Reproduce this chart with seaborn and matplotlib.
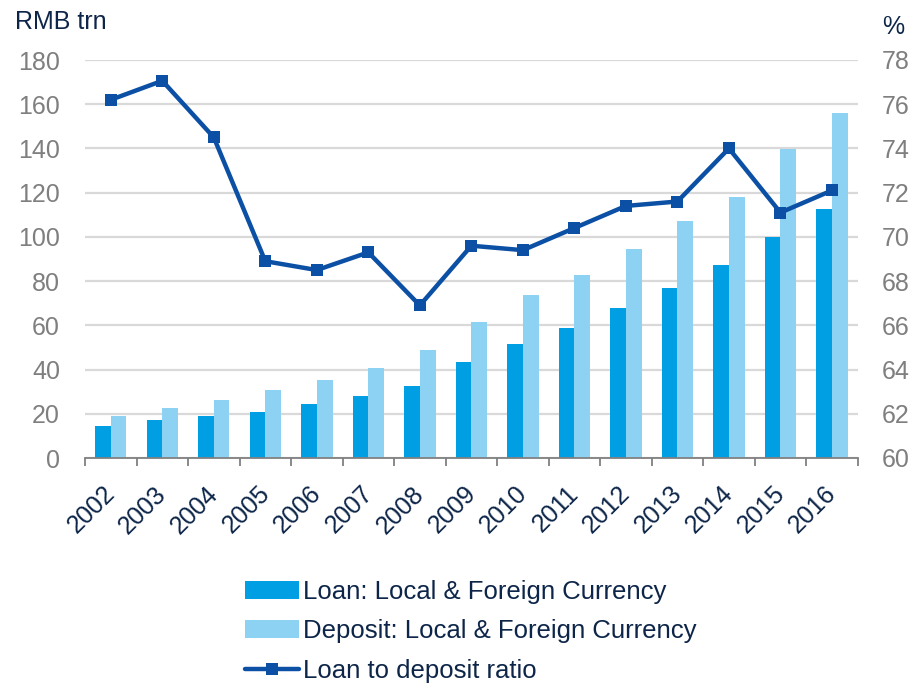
import numpy as np
import pandas as pd
import matplotlib
matplotlib.use("Agg")
import matplotlib.pyplot as plt
import matplotlib.transforms as mtransforms
from matplotlib.patches import Patch
from matplotlib.lines import Line2D
import seaborn as sns

years = ["2002", "2003", "2004", "2005", "2006", "2007", "2008", "2009",
         "2010", "2011", "2012", "2013", "2014", "2015", "2016"]
loan = [14.5, 17.2, 19.0, 20.8, 24.4, 28.0, 32.6, 43.4,
        51.6, 58.8, 67.8, 76.9, 87.4, 100.1, 112.8]
deposit = [19.0, 22.6, 26.2, 30.8, 35.3, 40.7, 48.8, 61.5,
           73.9, 82.9, 94.7, 107.3, 118.2, 139.9, 156.2]
ratio = [76.2, 77.06, 74.5, 68.9, 68.5, 69.3, 66.9, 69.6,
         69.4, 70.4, 71.4, 71.6, 74.0, 71.1, 72.1]

loan_lbl = "Loan: Local & Foreign Currency"
dep_lbl = "Deposit: Local & Foreign Currency"
ratio_lbl = "Loan to deposit ratio"

c_loan = "#009FE3"
c_dep = "#8DD2F2"
c_line = "#0B50A4"
c_tick = "#7F7F7F"
c_text = "#0D2548"
c_grid = "#D9D9D9"
fs = 18

sns.set_theme(style="white")
plt.rcParams["font.family"] = ["Liberation Sans", "DejaVu Sans"]

df = pd.DataFrame({"year": years * 2,
                   "value": loan + deposit,
                   "series": [loan_lbl] * len(years) + [dep_lbl] * len(years)})

fig = plt.figure(figsize=(9.13, 6.88), dpi=100)
ax = fig.add_axes([85 / 913, 1 - 458 / 688, (857.7 - 85) / 913, (458 - 60) / 688])

sns.barplot(data=df, x="year", y="value", hue="series", order=years,
            hue_order=[loan_lbl, dep_lbl], palette=[c_loan, c_dep],
            width=0.61, saturation=1, linewidth=0, edgecolor="none",
            ax=ax, legend=False)
ax.set_xlim(-0.5, len(years) - 0.5)
ax.set_ylim(0, 180)
ax.set_yticks(np.arange(0, 181, 20))
ax.yaxis.grid(True, color=c_grid, linewidth=1.6)
ax.set_axisbelow(True)
ax.set_xlabel("")
ax.set_ylabel("")
for s in ["top", "left", "right"]:
    ax.spines[s].set_visible(False)
ax.spines["bottom"].set_color("#808080")
ax.spines["bottom"].set_linewidth(1.3)
ax.tick_params(axis="y", length=0, labelsize=fs, labelcolor=c_tick, pad=18)
ax.set_xticks(range(len(years)))
ax.set_xticklabels(years, rotation=45, ha="right", rotation_mode="anchor")
ax.set_xticks(np.arange(-0.5, len(years), 1.0), minor=True)
ax.tick_params(axis="x", which="minor", length=6, width=1.3, color="#808080",
               direction="out", bottom=True)
ax.tick_params(axis="x", which="major", length=0, labelsize=fs, labelcolor=c_text, pad=17)
offset = mtransforms.ScaledTranslation(-8 / 100, 0, fig.dpi_scale_trans)
for lbl in ax.get_xticklabels():
    lbl.set_transform(lbl.get_transform() + offset)

ax2 = ax.twinx()
sns.lineplot(x=np.arange(len(years)), y=ratio, ax=ax2, color=c_line, linewidth=3.2,
             marker="s", markersize=9, markeredgewidth=0, markerfacecolor=c_line)
ax2.set_ylim(60, 78)
ax2.set_yticks(np.arange(60, 79, 2))
for s in ["top", "left", "right", "bottom"]:
    ax2.spines[s].set_visible(False)
ax2.tick_params(axis="y", length=0, labelsize=fs, labelcolor=c_tick, pad=17)
ax2.grid(False)

fig.text(15 / 913, 1 - 22 / 688, "RMB trn", fontsize=fs, color=c_text, va="center", ha="left")
fig.text(882 / 913, 1 - 27 / 688, "%", fontsize=fs, color=c_text, va="center", ha="left")

handles = [Patch(facecolor=c_loan, edgecolor="none"),
           Patch(facecolor=c_dep, edgecolor="none"),
           Line2D([0], [0], color=c_line, linewidth=3.2, marker="s", markersize=9, markeredgewidth=0)]
leg = fig.legend(handles, [loan_lbl, dep_lbl, ratio_lbl], loc="upper left",
                 bbox_to_anchor=(245 / 913, 1 - 580 / 688), frameon=False,
                 fontsize=18.5, handlelength=2.1, handletextpad=0.15, labelspacing=0.6,
                 borderaxespad=0, borderpad=0)
for t in leg.get_texts():
    t.set_color(c_text)

fig.savefig("out.png", dpi=100)
